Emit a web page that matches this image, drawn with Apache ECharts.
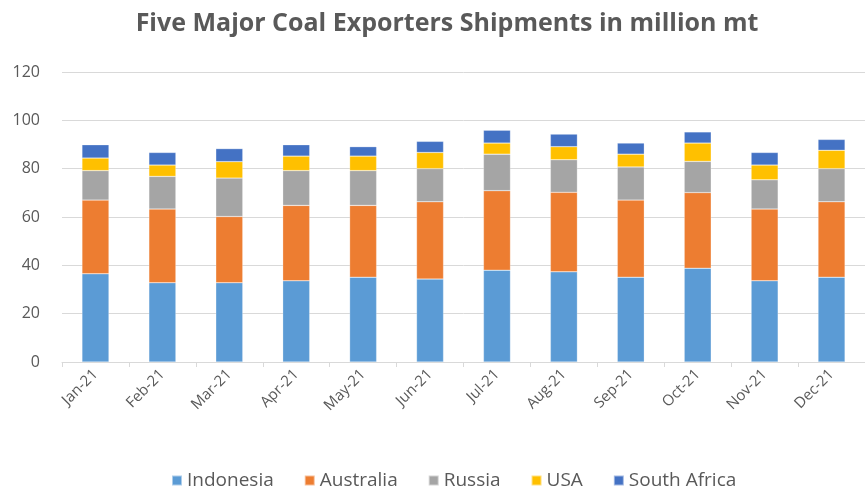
<!DOCTYPE html>
<html><head><meta charset="utf-8">
<script src="https://cdn.jsdelivr.net/npm/echarts@6/dist/echarts.min.js"></script>
<style>html,body{margin:0;padding:0;background:#fff}#c{width:865px;height:488px}</style>
</head><body><div id="c"></div>
<script>
const months = ['Jan-21','Feb-21','Mar-21','Apr-21','May-21','Jun-21','Jul-21','Aug-21','Sep-21','Oct-21','Nov-21','Dec-21'];
const indonesia = [36.5,32.8,32.8,33.6,35.1,34.3,38.0,37.3,35.1,38.8,33.6,35.1];
const australia = [30.5,30.5,27.4,31.2,29.7,32.0,32.9,32.9,31.9,31.3,29.7,31.2];
const russia = [12.2,13.5,15.9,14.4,14.4,13.7,15.1,13.5,13.7,12.9,12.1,13.7];
const usa = [5.2,4.7,6.8,6.0,6.0,6.7,4.6,5.4,5.3,7.6,6.1,7.6];
const southAfrica = [5.5,5.2,5.4,4.7,3.9,4.6,5.3,5.2,4.6,4.6,5.2,4.5];
const yTicks = {min:0,max:120,interval:20};

const font = '"Open Sans", "Liberation Sans", sans-serif';
const mk = (name, data, color) => ({
  name, type:'bar', stack:'total', data, barWidth:27,
  itemStyle:{color, borderColor:'rgba(255,255,255,0.5)', borderWidth:0.5}
});
const chart = echarts.init(document.getElementById('c'), null, {renderer:'canvas'});
chart.setOption({
  animation:false,
  title:{text:'Five Major Coal Exporters Shipments in million mt', left:442, textAlign:'center', top:6,
    textStyle:{fontFamily:font, fontSize:25, fontWeight:'bold', color:'#595959'}},
  legend:{top:466, left:166, itemWidth:10, itemHeight:10, itemGap:30, icon:'rect',
    textStyle:{fontFamily:font, fontSize:19, color:'#595959'}},
  grid:{left:62, right:-4, top:72, bottom:126},
  xAxis:{type:'category', data:months,
    axisLine:{lineStyle:{color:'#d9d9d9'}},
    axisTick:{show:true, alignWithLabel:false, length:5, lineStyle:{color:'#d9d9d9'}},
    axisLabel:{rotate:45, fontFamily:font, fontSize:15, color:'#595959', margin:10}},
  yAxis:{type:'value', min:yTicks.min, max:yTicks.max, interval:yTicks.interval,
    axisLine:{show:false}, axisTick:{show:false},
    splitLine:{lineStyle:{color:'#d9d9d9'}},
    axisLabel:{fontFamily:font, fontSize:16, color:'#595959', margin:22}},
  series:[
    mk('Indonesia', indonesia, '#5B9BD5'),
    mk('Australia', australia, '#ED7D31'),
    mk('Russia', russia, '#A5A5A5'),
    mk('USA', usa, '#FFC000'),
    mk('South Africa', southAfrica, '#4472C4')
  ]
});
</script></body></html>
